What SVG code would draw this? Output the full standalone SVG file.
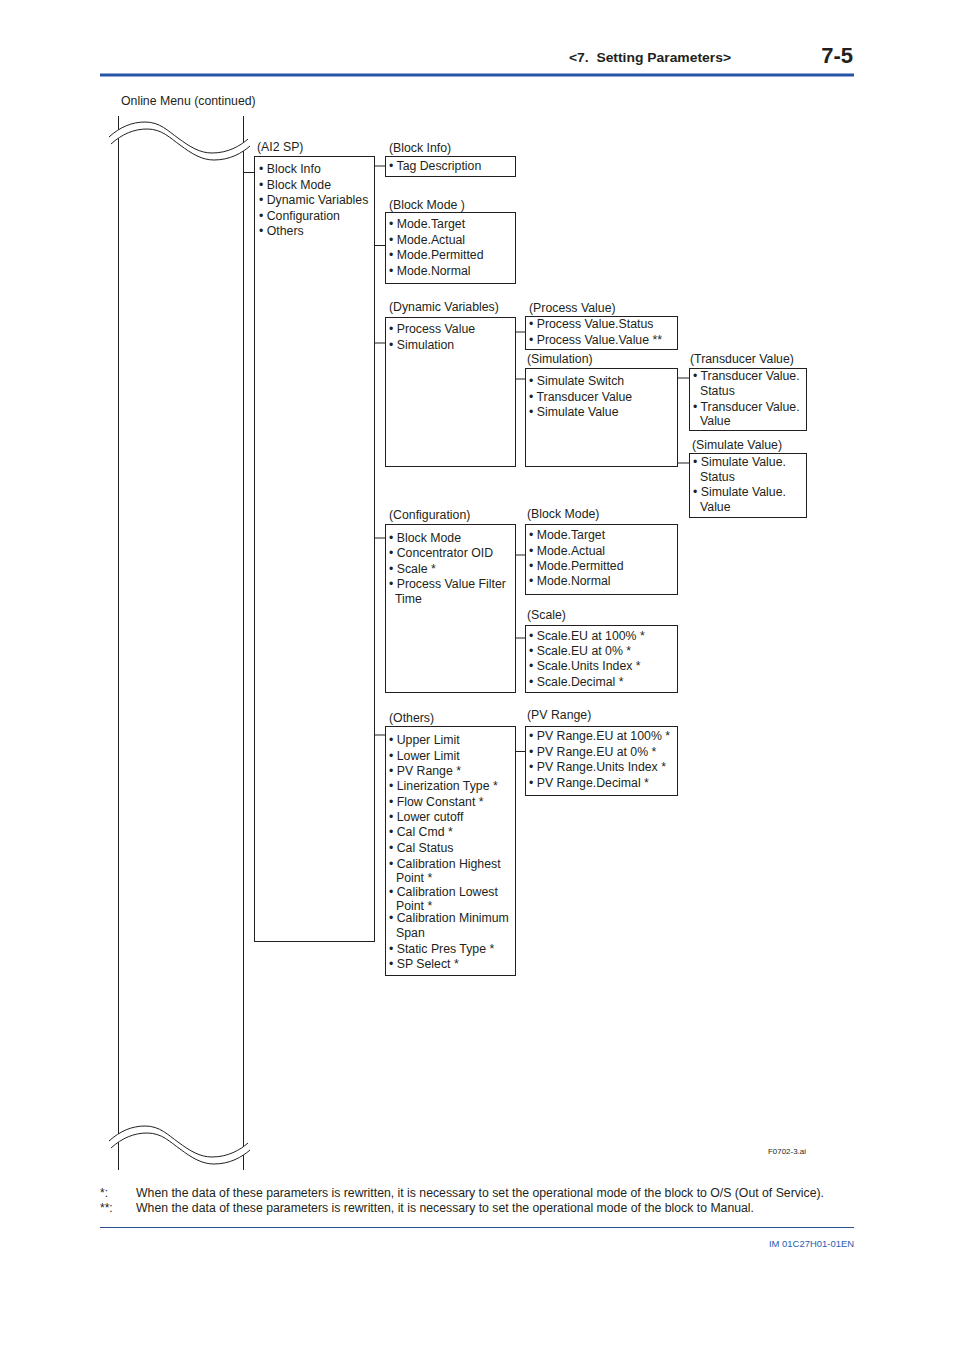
<svg xmlns="http://www.w3.org/2000/svg" xmlns:xlink="http://www.w3.org/1999/xlink" width="954" height="1350" viewBox="0 0 954 1350">
<style>
text{font-family:"Liberation Sans",Arial,sans-serif;font-size:12.3px;fill:#231f20}
.box{fill:none;stroke:#231f20;stroke-width:1}
.ln{stroke:#231f20;stroke-width:1;fill:none}
.hd{font-weight:bold;font-size:13.5px}
.pg{font-weight:bold;font-size:22px}
.fn{font-size:12px}
</style>
<defs>
<g id="wave">
<path d="M109,137 C120,127 132,122 145,122 C160,122 168,131 178,138 C190,147 200,153 212,153 C228,153 240,146 248,139 L250,146 C242,153 230,160 214,160 C202,160 192,154 180,145 C170,138 162,129 147,129 C134,129 122,134 111,144 Z" fill="#fff" stroke="none"/>
<path class="ln" d="M109,137 C120,127 132,122 145,122 C160,122 168,131 178,138 C190,147 200,153 212,153 C228,153 240,146 248,139"/>
<path class="ln" d="M111,144 C122,134 134,129 147,129 C162,129 170,138 180,145 C192,154 202,160 214,160 C230,160 242,153 250,146"/>
</g>
</defs>
<rect width="954" height="1350" fill="#fff"/>
<g id="header">
<text class="hd" x="569" y="62" xml:space="preserve" textLength="162" lengthAdjust="spacingAndGlyphs">&lt;7.  Setting Parameters&gt;</text>
<text class="pg" x="853" y="63" text-anchor="end">7-5</text>
<rect x="100" y="73.5" width="754" height="3" fill="#2453a6"/>
</g>
<text x="121" y="105">Online Menu (continued)</text>
<g id="menu-trunk">
<line class="ln" x1="118.5" y1="116" x2="118.5" y2="1170"/>
<line class="ln" x1="243.5" y1="116" x2="243.5" y2="1170"/>
<use xlink:href="#wave"/>
<use xlink:href="#wave" transform="translate(0,1004)"/>
</g>
<g id="connectors">
<line class="ln" x1="243.5" y1="172.5" x2="254.5" y2="172.5"/>
<line class="ln" x1="374.5" y1="166" x2="385.5" y2="166"/>
<line class="ln" x1="374.5" y1="245.5" x2="385.5" y2="245.5"/>
<line class="ln" x1="374.5" y1="343" x2="385.5" y2="343"/>
<line class="ln" x1="374.5" y1="538" x2="385.5" y2="538"/>
<line class="ln" x1="374.5" y1="735" x2="385.5" y2="735"/>
<line class="ln" x1="515.5" y1="332" x2="525.5" y2="332"/>
<line class="ln" x1="515.5" y1="379" x2="525.5" y2="379"/>
<line class="ln" x1="515.5" y1="555" x2="525.5" y2="555"/>
<line class="ln" x1="515.5" y1="638" x2="525.5" y2="638"/>
<line class="ln" x1="515.5" y1="751.5" x2="525.5" y2="751.5"/>
<line class="ln" x1="677.5" y1="378" x2="689.5" y2="378"/>
<line class="ln" x1="677.5" y1="463" x2="689.5" y2="463"/>
</g>
<g id="ai2sp">
<text x="257" y="151">(AI2 SP)</text>
<rect class="box" x="254.5" y="156.5" width="120" height="785"/>
<text x="259" y="173">• Block Info</text>
<text x="259" y="189">• Block Mode</text>
<text x="259" y="204">• Dynamic Variables</text>
<text x="259" y="220">• Configuration</text>
<text x="259" y="235">• Others</text>
</g>
<g id="block-info">
<text x="389" y="152">(Block Info)</text>
<rect class="box" x="385.5" y="156.5" width="130" height="20"/>
<text x="389" y="170">• Tag Description</text>
</g>
<g id="block-mode">
<text x="389" y="209">(Block Mode )</text>
<rect class="box" x="385.5" y="212.5" width="130" height="71"/>
<text x="389" y="228">• Mode.Target</text>
<text x="389" y="244">• Mode.Actual</text>
<text x="389" y="259">• Mode.Permitted</text>
<text x="389" y="275">• Mode.Normal</text>
</g>
<g id="dynamic-variables">
<text x="389" y="311">(Dynamic Variables)</text>
<rect class="box" x="385.5" y="317.5" width="130" height="149"/>
<text x="389" y="333">• Process Value</text>
<text x="389" y="349">• Simulation</text>
</g>
<g id="process-value">
<text x="529" y="312">(Process Value)</text>
<rect class="box" x="525.5" y="316.5" width="152" height="33"/>
<text x="529" y="328">• Process Value.Status</text>
<text x="529" y="344">• Process Value.Value **</text>
</g>
<g id="simulation">
<text x="527" y="363">(Simulation)</text>
<rect class="box" x="525.5" y="368.5" width="152" height="98"/>
<text x="529" y="385">• Simulate Switch</text>
<text x="529" y="401">• Transducer Value</text>
<text x="529" y="416">• Simulate Value</text>
</g>
<g id="transducer-value">
<text x="690" y="363">(Transducer Value)</text>
<rect class="box" x="689.5" y="368.5" width="117" height="62"/>
<text x="693" y="380">• Transducer Value.</text>
<text x="700" y="395">Status</text>
<text x="693" y="411">• Transducer Value.</text>
<text x="700" y="425">Value</text>
</g>
<g id="simulate-value">
<text x="692" y="449">(Simulate Value)</text>
<rect class="box" x="689.5" y="453.5" width="117" height="64"/>
<text x="693" y="466">• Simulate Value.</text>
<text x="700" y="481">Status</text>
<text x="693" y="496">• Simulate Value.</text>
<text x="700" y="511">Value</text>
</g>
<g id="configuration">
<text x="389" y="519">(Configuration)</text>
<rect class="box" x="385.5" y="524.5" width="130" height="168"/>
<text x="389" y="542">• Block Mode</text>
<text x="389" y="557">• Concentrator OID</text>
<text x="389" y="573">• Scale *</text>
<text x="389" y="588">• Process Value Filter</text>
<text x="395" y="603">Time</text>
</g>
<g id="block-mode-2">
<text x="527" y="518">(Block Mode)</text>
<rect class="box" x="525.5" y="524.5" width="152" height="70"/>
<text x="529" y="539">• Mode.Target</text>
<text x="529" y="555">• Mode.Actual</text>
<text x="529" y="570">• Mode.Permitted</text>
<text x="529" y="585">• Mode.Normal</text>
</g>
<g id="scale">
<text x="527" y="619">(Scale)</text>
<rect class="box" x="525.5" y="625.5" width="152" height="67"/>
<text x="529" y="640">• Scale.EU at 100% *</text>
<text x="529" y="655">• Scale.EU at 0% *</text>
<text x="529" y="670">• Scale.Units Index *</text>
<text x="529" y="686">• Scale.Decimal *</text>
</g>
<g id="others">
<text x="389" y="722">(Others)</text>
<rect class="box" x="385.5" y="726.5" width="130" height="249"/>
<text x="389" y="744">• Upper Limit</text>
<text x="389" y="760">• Lower Limit</text>
<text x="389" y="775">• PV Range *</text>
<text x="389" y="790">• Linerization Type *</text>
<text x="389" y="806">• Flow Constant *</text>
<text x="389" y="821">• Lower cutoff</text>
<text x="389" y="836">• Cal Cmd *</text>
<text x="389" y="852">• Cal Status</text>
<text x="389" y="868">• Calibration Highest</text>
<text x="396" y="882">Point *</text>
<text x="389" y="896">• Calibration Lowest</text>
<text x="396" y="910">Point *</text>
<text x="389" y="922">• Calibration Minimum</text>
<text x="396" y="937">Span</text>
<text x="389" y="953">• Static Pres Type *</text>
<text x="389" y="968">• SP Select *</text>
</g>
<g id="pv-range">
<text x="527" y="719">(PV Range)</text>
<rect class="box" x="525.5" y="726.5" width="152" height="69"/>
<text x="529" y="740">• PV Range.EU at 100% *</text>
<text x="529" y="756">• PV Range.EU at 0% *</text>
<text x="529" y="771">• PV Range.Units Index *</text>
<text x="529" y="787">• PV Range.Decimal *</text>
</g>
<text x="768" y="1154" style="font-size:7.5px" textLength="38" lengthAdjust="spacingAndGlyphs">F0702-3.ai</text>
<g id="footnotes">
<text class="fn" x="100" y="1197">*:</text>
<text class="fn" x="136" y="1197" textLength="688" lengthAdjust="spacingAndGlyphs">When the data of these parameters is rewritten, it is necessary to set the operational mode of the block to O/S (Out of Service).</text>
<text class="fn" x="100" y="1212">**:</text>
<text class="fn" x="136" y="1212" textLength="618" lengthAdjust="spacingAndGlyphs">When the data of these parameters is rewritten, it is necessary to set the operational mode of the block to Manual.</text>
</g>
<g id="footer">
<line x1="100" y1="1227.5" x2="854" y2="1227.5" stroke="#2b4f8f" stroke-width="1"/>
<text x="854" y="1247" text-anchor="end" style="font-size:9px;fill:#2a5db0" textLength="85" lengthAdjust="spacingAndGlyphs">IM 01C27H01-01EN</text>
</g>
</svg>
